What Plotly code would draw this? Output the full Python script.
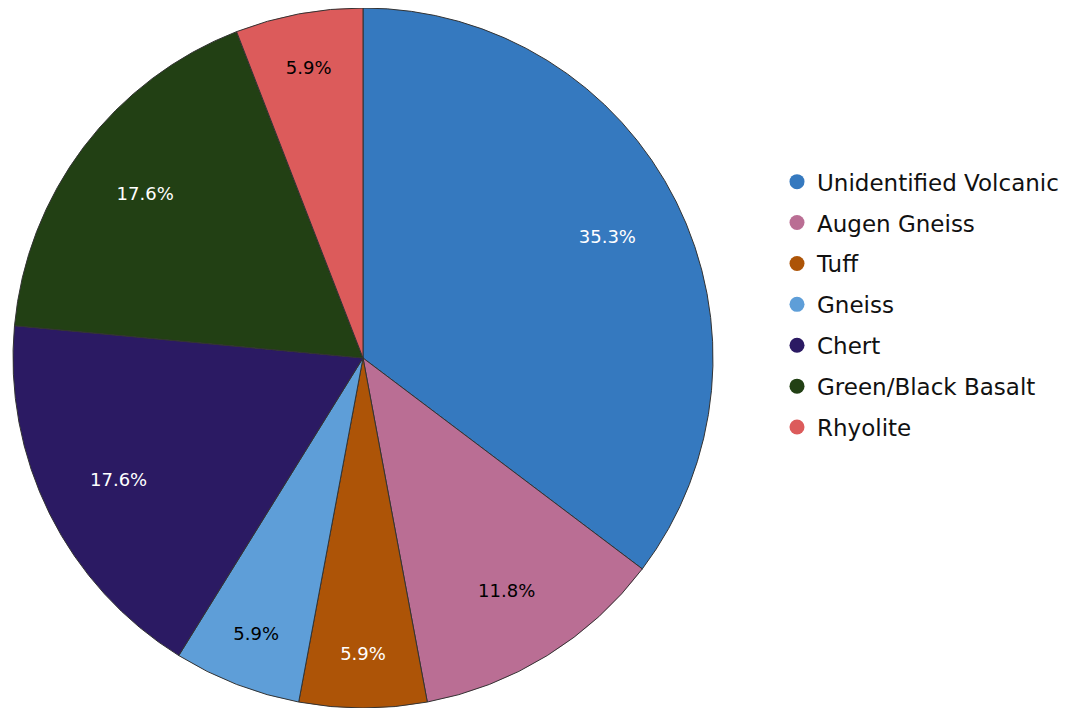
import plotly.graph_objects as go

labels = ["Unidentified Volcanic", "Augen Gneiss", "Tuff", "Gneiss", "Chert",
          "Green/Black Basalt", "Rhyolite"]
counts = [6, 2, 1, 1, 3, 3, 1]
colors = ["#3579BF", "#BA6E94", "#AD5407", "#5E9ED8", "#2B1A63", "#224014", "#DC5B5B"]
text_colors = ["white", "black", "white", "black", "white", "white", "black"]

W, H = 1070, 708
cx, r, top = 355, 350, 8
dom = dict(x=[(cx - r) / W, (cx + r) / W], y=[top / H, 1])

fig = go.Figure()
fig.add_trace(go.Pie(
    labels=labels, values=counts, sort=False, direction="clockwise", rotation=0,
    marker=dict(colors=colors, line=dict(color="#333333", width=1)),
    textinfo="none", showlegend=False, hoverinfo="label+percent", domain=dom,
))
# transparent ring used only to place the percentage labels
fig.add_trace(go.Pie(
    labels=labels, values=counts, sort=False, direction="clockwise", rotation=0,
    hole=0.56,
    marker=dict(colors=["rgba(0,0,0,0)"] * len(labels), line=dict(width=0)),
    textinfo="percent", texttemplate="%{percent:.1%}", textposition="inside",
    insidetextorientation="horizontal",
    insidetextfont=dict(color=text_colors, size=18, family="DejaVu Sans"),
    showlegend=False, hoverinfo="skip", domain=dom,
))
for i, (lab, col) in enumerate(zip(labels, colors)):
    fig.add_trace(go.Scatter(
        x=[None], y=[None], mode="markers", name=lab, legendgroup=f"g{i}",
        marker=dict(color=col, size=15, symbol="circle"), showlegend=True,
    ))

fig.update_layout(
    width=W, height=H,
    margin=dict(l=0, r=0, t=0, b=0),
    paper_bgcolor="white", plot_bgcolor="white",
    xaxis=dict(visible=False), yaxis=dict(visible=False),
    font=dict(family="DejaVu Sans", color="#222222"),
    legend=dict(x=769 / W, xanchor="left", y=0.785, yanchor="top",
                font=dict(size=23, color="#111111"), tracegroupgap=8,
                bgcolor="rgba(0,0,0,0)"),
)
fig.write_html("out.html")
